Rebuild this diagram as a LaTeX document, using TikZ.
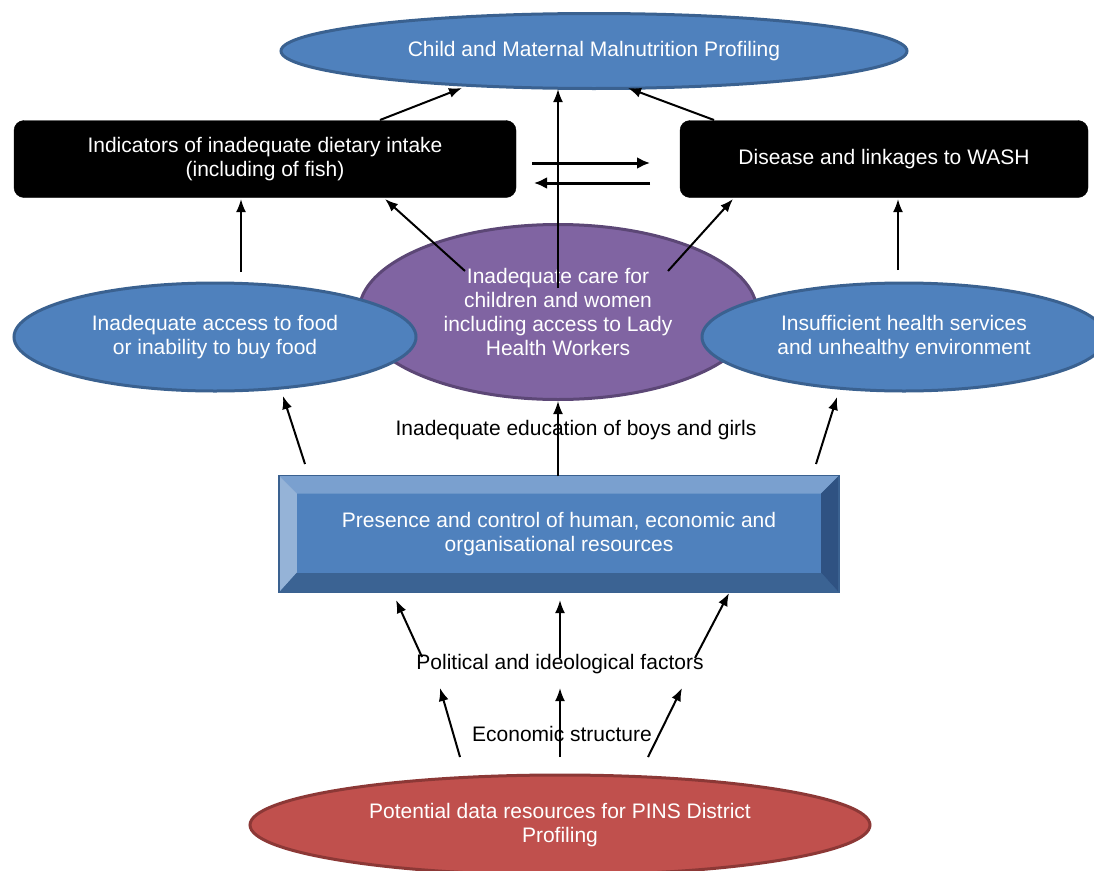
\documentclass[tikz,border=0pt]{standalone}
\usepackage{fontspec}
\setmainfont{Liberation Sans}
\usetikzlibrary{shapes.geometric,arrows.meta,calc}
\definecolor{blueF}{HTML}{4F81BD}
\definecolor{blueD}{HTML}{3A6190}
\definecolor{purpF}{HTML}{8064A2}
\definecolor{purpD}{HTML}{5C4776}
\definecolor{redF}{HTML}{C0504D}
\definecolor{redD}{HTML}{8C3836}
\definecolor{bevTop}{HTML}{7AA0CF}
\definecolor{bevLeft}{HTML}{95B3D7}
\definecolor{bevBot}{HTML}{3B6393}
\definecolor{bevRight}{HTML}{2F5282}
\begin{document}
\begin{tikzpicture}[x=1pt,y=-1pt,
  txt/.style={font=\fontsize{21}{24}\selectfont, align=center},
  ell/.style={ellipse, draw, line width=3pt, inner sep=0pt, txt, text=white},
  blk/.style={rectangle, rounded corners=10pt, fill=black, draw=black, inner sep=0pt, txt, text=white},
  lbl/.style={txt, text=black, inner sep=1pt},
  arr/.style={line width=2pt, -{Latex[length=13pt,width=10pt]}},
  harr/.style={line width=3pt, -{Latex[length=13pt,width=12pt]}},
  bevelbox/.style={rectangle, inner sep=0pt, txt, text=white, fill=blueF, draw=blueD, line width=1.5pt,
    path picture={
      \path (path picture bounding box.north west) coordinate (pNW)
            (path picture bounding box.north east) coordinate (pNE)
            (path picture bounding box.south west) coordinate (pSW)
            (path picture bounding box.south east) coordinate (pSE);
      \path ($(pNW)+(18,18)$) coordinate (qNW)
            ($(pNE)+(-18,18)$) coordinate (qNE)
            ($(pSW)+(18,-20)$) coordinate (qSW)
            ($(pSE)+(-18,-20)$) coordinate (qSE);
      \fill[bevTop] (pNW) -- (pNE) -- (qNE) -- (qNW) -- cycle;
      \fill[bevLeft] (pNW) -- (qNW) -- (qSW) -- (pSW) -- cycle;
      \fill[bevBot] (pSW) -- (qSW) -- (qSE) -- (pSE) -- cycle;
      \fill[bevRight] (pNE) -- (pSE) -- (qSE) -- (qNE) -- cycle;
      \fill[blueF] (qNW) rectangle (qSE);
    }}]
\useasboundingbox (0,0) rectangle (1094,870);
\fill[white] (0,0) rectangle (1094,870);

% nodes
\node[ell, fill=blueF, draw=blueD, minimum width=626pt, minimum height=75pt] (top) at (594,51) {Child and Maternal Malnutrition Profiling};
\node[blk, minimum width=502pt, minimum height=77pt] (diet) at (265,159) {Indicators of inadequate dietary intake\\(including of fish)};
\node[blk, minimum width=408pt, minimum height=77pt] (wash) at (884,159) {Disease and linkages to WASH};
\node[ell, fill=purpF, draw=purpD, minimum width=398pt, minimum height=175pt] (care) at (558,312) {Inadequate care for\\children and women\\including access to Lady\\Health Workers};
\node[ell, fill=blueF, draw=blueD, minimum width=402pt, minimum height=108pt] (food) at (215,337) {Inadequate access to food\\or inability to buy food};
\node[ell, fill=blueF, draw=blueD, minimum width=404pt, minimum height=108pt] (health) at (904,337) {Insufficient health services\\and unhealthy environment};
\node[bevelbox, minimum width=560pt, minimum height=117pt] (res) at (559,534) {Presence and control of human, economic and\\organisational resources};
\node[ell, fill=redF, draw=redD, minimum width=620pt, minimum height=100pt] (data) at (560,825) {Potential data resources for PINS District\\Profiling};

\node[lbl] (edu) at (576,430) {Inadequate education of boys and girls};
\node[lbl] (pol) at (560,664) {Political and ideological factors};
\node[lbl] (eco) at (562,734) {Economic structure};

% connector end points
\coordinate (dietT) at (380,120);   \coordinate (topL) at (462,88);
\coordinate (washT) at (714,120);   \coordinate (topR) at (628,88);
\coordinate (careT) at (558,288);   \coordinate (topC) at (558,89);
\coordinate (dietR1) at (532,163);  \coordinate (washL1) at (650,163);
\coordinate (washL2) at (650,183);  \coordinate (dietR2) at (534,183);
\coordinate (careTL) at (465,271);  \coordinate (dietB) at (385,199);
\coordinate (careTR) at (668,271);  \coordinate (washB) at (733,199);
\coordinate (foodT) at (241,272);   \coordinate (dietBL) at (241,199);
\coordinate (healthT) at (898,270); \coordinate (washBR) at (898,199);
\coordinate (resTL) at (305,464);   \coordinate (foodB) at (283,396);
\coordinate (resTR) at (816,464);   \coordinate (healthB) at (837,397);
\coordinate (resT) at (558,476);    \coordinate (careB) at (558,401);
\coordinate (polL) at (422,657);    \coordinate (resBL) at (396,600);
\coordinate (polC) at (560,658);    \coordinate (resBC) at (560,600);
\coordinate (polR) at (695,658);    \coordinate (resBR) at (729,593);
\coordinate (dataL) at (460,757);   \coordinate (polBL) at (440,688);
\coordinate (dataC) at (560,757);   \coordinate (polBC) at (560,688);
\coordinate (dataR) at (648,757);   \coordinate (polBR) at (682,688);

% connectors
\draw[arr] (dietT) -- (topL);
\draw[arr] (washT) -- (topR);
\draw[arr] (careT) -- (topC);
\draw[harr] (dietR1) -- (washL1);
\draw[harr] (washL2) -- (dietR2);
\draw[arr] (careTL) -- (dietB);
\draw[arr] (careTR) -- (washB);
\draw[arr] (foodT) -- (dietBL);
\draw[arr] (healthT) -- (washBR);
\draw[arr] (resTL) -- (foodB);
\draw[arr] (resTR) -- (healthB);
\draw[arr] (resT) -- (careB);
\draw[arr] (polL) -- (resBL);
\draw[arr] (polC) -- (resBC);
\draw[arr] (polR) -- (resBR);
\draw[arr] (dataL) -- (polBL);
\draw[arr] (dataC) -- (polBC);
\draw[arr] (dataR) -- (polBR);
\end{tikzpicture}
\end{document}
